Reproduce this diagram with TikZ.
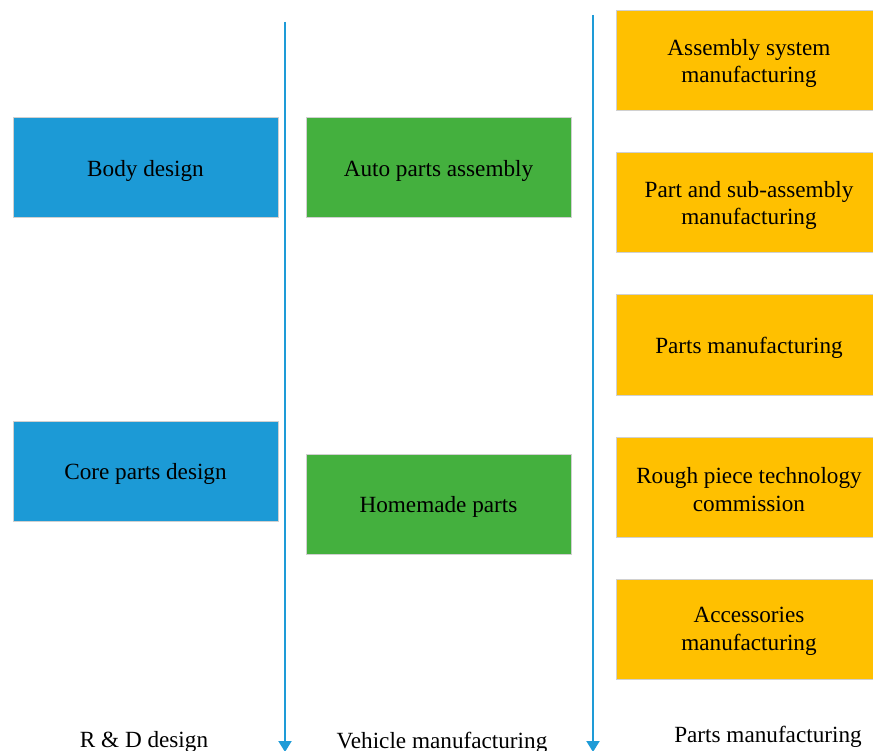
\documentclass[tikz,border=0pt]{standalone}
\usepackage{fontspec}
\setmainfont{Liberation Serif}
\usetikzlibrary{arrows.meta}
\definecolor{cblue}{RGB}{28,154,214}
\definecolor{cgreen}{RGB}{68,176,62}
\definecolor{corange}{RGB}{255,192,0}
\definecolor{cborder}{RGB}{208,208,208}
\definecolor{carrow}{RGB}{30,155,215}
\tikzset{
  txt/.style={align=center, font=\fontsize{23.2}{27.5}\selectfont, text=black, inner sep=0pt, yshift=-2.5pt},
  box/.style={draw=cborder, line width=1pt, minimum height=100pt, inner sep=0pt},
  bluebox/.style={box, fill=cblue, minimum width=265pt},
  greenbox/.style={box, fill=cgreen, minimum width=265pt},
  orangebox/.style={box, fill=corange, minimum width=266pt},
  flow/.style={draw=carrow, line width=2pt, -{Triangle[width=13pt,length=11pt]}},
  lab/.style={font=\fontsize{23.2}{27.5}\selectfont, inner sep=0pt}
}
\begin{document}
\begin{tikzpicture}[x=1pt,y=-1pt]
\useasboundingbox (0,0) rectangle (873,751);
\node[bluebox, label={[txt]center:Body design}] (body) at (145.5,168) {};
\node[bluebox, label={[txt]center:Core parts design}] (core) at (145.5,471) {};
\node[greenbox, label={[txt]center:Auto parts assembly}] (auto) at (438.5,168) {};
\node[greenbox, label={[txt]center:Homemade parts}] (home) at (438.5,504) {};
\node[orangebox, label={[txt]center:{Assembly system\\manufacturing}}] (o1) at (749,61) {};
\node[orangebox, label={[txt]center:{Part and sub-assembly\\manufacturing}}] (o2) at (749,203) {};
\node[orangebox, label={[txt]center:Parts manufacturing}] (o3) at (749,345) {};
\node[orangebox, label={[txt]center:{Rough piece technology\\commission}}] (o4) at (749,487) {};
\node[orangebox, label={[txt]center:{Accessories\\manufacturing}}] (o5) at (749,629) {};
\coordinate (a1s) at (285,22);
\coordinate (a1e) at (285,752);
\coordinate (a2s) at (593,15);
\coordinate (a2e) at (593,752);
\draw[flow] (a1s) -- (a1e);
\draw[flow] (a2s) -- (a2e);
\node[lab, anchor=base] (l1) at (144,747) {R \& D design};
\node[lab, anchor=base] (l2) at (442,748) {Vehicle manufacturing};
\node[lab, anchor=base] (l3) at (768,742) {Parts manufacturing};
\end{tikzpicture}
\end{document}
